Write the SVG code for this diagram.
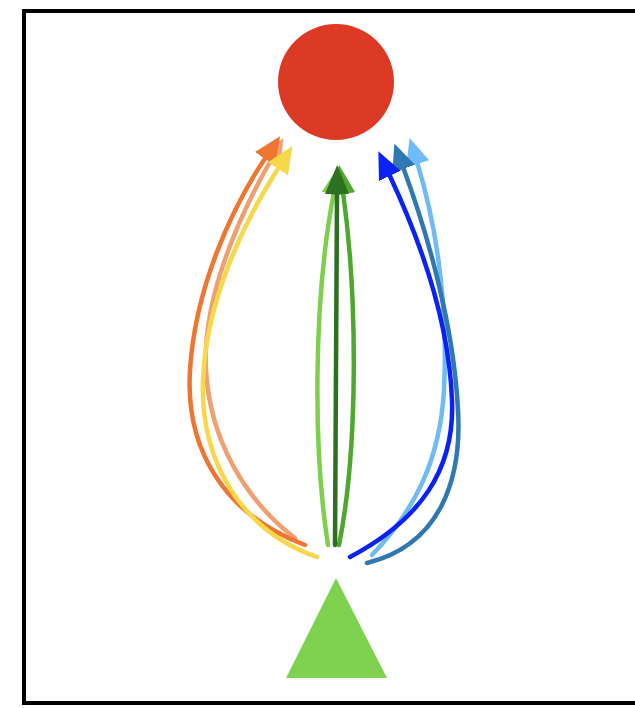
<svg xmlns="http://www.w3.org/2000/svg" width="635" height="708" viewBox="0 0 635 708">
  <style>
    .edge { fill: none; stroke-width: 4.5; stroke-linecap: round; }
  </style>
  <defs>
    <marker id="ah-orange" markerUnits="userSpaceOnUse" markerWidth="32" markerHeight="28" viewBox="0 -14 32 28" refX="2" refY="0" orient="auto"><path d="M0,-12 L27,0 L0,12 z" fill="#EF7530"/></marker>
    <marker id="ah-yellow" markerUnits="userSpaceOnUse" markerWidth="32" markerHeight="28" viewBox="0 -14 32 28" refX="2" refY="0" orient="auto"><path d="M0,-12 L27,0 L0,12 z" fill="#F7D84A"/></marker>
    <marker id="ah-salmon" markerUnits="userSpaceOnUse" markerWidth="32" markerHeight="28" viewBox="0 -14 32 28" refX="2" refY="0" orient="auto"><path d="M0,-12 L27,0 L0,12 z" fill="#F0A070"/></marker>
    <marker id="ah-lgreen" markerUnits="userSpaceOnUse" markerWidth="32" markerHeight="28" viewBox="0 -14 32 28" refX="2" refY="0" orient="auto"><path d="M0,-12 L29,0 L0,12 z" fill="#7DCF4C"/></marker>
    <marker id="ah-mgreen" markerUnits="userSpaceOnUse" markerWidth="32" markerHeight="28" viewBox="0 -14 32 28" refX="2" refY="0" orient="auto"><path d="M0,-12 L29,0 L0,12 z" fill="#4FA82E"/></marker>
    <marker id="ah-dgreen" markerUnits="userSpaceOnUse" markerWidth="32" markerHeight="28" viewBox="0 -14 32 28" refX="2" refY="0" orient="auto"><path d="M0,-12 L29,0 L0,12 z" fill="#2C7020"/></marker>
    <marker id="ah-blue" markerUnits="userSpaceOnUse" markerWidth="32" markerHeight="28" viewBox="0 -14 32 28" refX="2" refY="0" orient="auto"><path d="M0,-12 L27,0 L0,12 z" fill="#0A22F5"/></marker>
    <marker id="ah-steel" markerUnits="userSpaceOnUse" markerWidth="32" markerHeight="28" viewBox="0 -14 32 28" refX="2" refY="0" orient="auto"><path d="M0,-12 L27,0 L0,12 z" fill="#2F78B4"/></marker>
    <marker id="ah-lblue" markerUnits="userSpaceOnUse" markerWidth="32" markerHeight="28" viewBox="0 -14 32 28" refX="2" refY="0" orient="auto"><path d="M0,-12 L27,0 L0,12 z" fill="#6EBBF5"/></marker>
  </defs>
  <rect x="0" y="0" width="635" height="708" fill="#ffffff"/>
  <rect id="frame" x="24" y="11" width="640" height="692" fill="none" stroke="#000000" stroke-width="4"/>

  <g id="node-circle">
    <circle cx="336" cy="82" r="58" fill="#DC3A25"/>
  </g>
  <g id="node-triangle">
    <polygon points="336,578 387,678 286,678" fill="#7ED24F"/>
  </g>

  <g id="connectors">
    <path class="edge" stroke="#F0A070" marker-end="url(#ah-salmon)" d="M295,538 C245,500 210,440 206,370 C202,300 238,218 271,160"/>
    <path class="edge" stroke="#EF7530" marker-end="url(#ah-orange)" d="M305,545 C225,515 185,450 190,370 C195,290 230,210 266,157"/>
    <path class="edge" stroke="#F7D84A" marker-end="url(#ah-yellow)" d="M317,557 C240,530 200,460 203,380 C206,300 245,220 279,167"/>

    <path class="edge" stroke="#7DCF4C" marker-end="url(#ah-lgreen)" d="M328,545 C313,450 313,300 334,192"/>
    <path class="edge" stroke="#4FA82E" marker-end="url(#ah-mgreen)" d="M339,545 C358,450 358,300 343,192"/>
    <path class="edge" stroke="#2C7020" marker-end="url(#ah-dgreen)" d="M335,545 L337,192"/>

    <path class="edge" stroke="#6EBBF5" marker-end="url(#ah-lblue)" d="M372,555 C415,510 440,460 444,390 C448,310 438,230 417,162"/>
    <path class="edge" stroke="#2F78B4" marker-end="url(#ah-steel)" d="M367,563 C440,545 462,480 458,410 C454,330 430,240 403,167"/>
    <path class="edge" stroke="#0A22F5" marker-end="url(#ah-blue)" d="M350,557 C420,520 455,470 452,400 C449,320 420,240 389,174"/>
  </g>
</svg>
